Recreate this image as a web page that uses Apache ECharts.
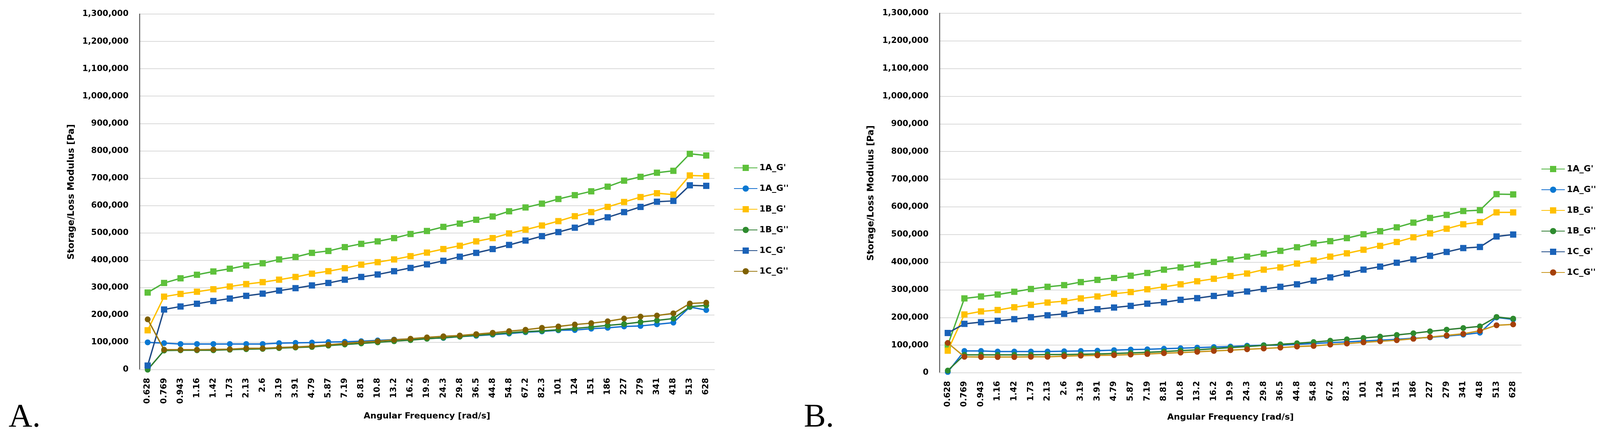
<!DOCTYPE html>
<html><head><meta charset="utf-8">
<script src="https://cdn.jsdelivr.net/npm/echarts@6/dist/echarts.min.js"></script>
<style>html,body{margin:0;padding:0;background:#fff}#c{width:4100px;height:1122px}</style>
</head><body><div id="c"></div>
<script>
// Angular frequency categories [rad/s]
const categories = ['0.628','0.769','0.943','1.16','1.42','1.73','2.13','2.6','3.19','3.91','4.79','5.87','7.19','8.81','10.8','13.2','16.2','19.9','24.3','29.8','36.5','44.8','54.8','67.2','82.3','101','124','151','186','227','279','341','418','513','628'];
const seriesNames = ["1A_G'", "1A_G''", "1B_G'", "1B_G''", "1C_G'", "1C_G''"];
const yTickMax = 1300000;
const yTickStep = 100000;

// Panel A values [Pa]
const A_1A_Gp  = [282000,317000,334000,347000,359000,369000,381000,389000,403000,412000,427000,434000,448000,460000,469000,481000,496000,507000,522000,534000,548000,560000,579000,593000,607000,624000,638000,652000,669000,691000,705000,720000,727000,789000,783000];
const A_1A_Gpp = [100000,97000,94000,94000,94000,94000,94000,94000,97000,98000,99000,101000,102000,104000,107000,110000,112000,114000,116000,121000,124000,128000,132000,137000,140000,144000,145000,150000,153000,158000,160000,166000,172000,229000,218000];
const A_1B_Gp  = [144000,267000,277000,285000,294000,304000,313000,320000,329000,339000,351000,360000,371000,384000,393000,403000,415000,428000,441000,453000,469000,481000,498000,512000,527000,543000,561000,576000,595000,613000,631000,645000,640000,710000,708000];
const A_1B_Gpp = [0,70000,71000,71000,71000,73000,75000,76000,79000,81000,83000,88000,92000,96000,100000,104000,108000,113000,117000,121000,126000,130000,135000,139000,142000,146000,151000,156000,162000,167000,174000,180000,187000,230000,235000];
const A_1C_Gp  = [15000,220000,231000,241000,251000,260000,270000,278000,289000,298000,308000,317000,329000,339000,348000,360000,372000,385000,398000,413000,427000,441000,456000,472000,488000,503000,519000,540000,557000,576000,595000,614000,617000,674000,672000];
const A_1C_Gpp = [184000,73000,73000,73000,74000,75000,78000,78000,81000,83000,86000,91000,96000,101000,104000,109000,113000,118000,122000,125000,130000,135000,141000,146000,153000,158000,165000,170000,177000,187000,194000,198000,206000,242000,245000];

// Panel B values [Pa]
const B_1A_Gp  = [100000,269000,276000,283000,293000,303000,311000,317000,328000,336000,343000,351000,361000,373000,381000,391000,401000,410000,420000,431000,441000,454000,468000,476000,487000,501000,512000,526000,543000,560000,571000,585000,588000,646000,645000];
const B_1A_Gpp = [3000,79000,79000,77000,77000,77000,77000,78000,79000,80000,82000,84000,85000,87000,89000,91000,93000,95000,98000,100000,100000,103000,106000,109000,112000,115000,118000,121000,125000,128000,133000,138000,145000,200000,193000];
const B_1B_Gp  = [80000,211000,222000,227000,237000,246000,254000,259000,269000,276000,286000,292000,302000,311000,320000,331000,340000,350000,359000,373000,381000,395000,406000,420000,432000,445000,459000,473000,490000,504000,521000,537000,545000,580000,580000];
const B_1B_Gpp = [8000,65000,65000,65000,65000,65000,66000,66000,67000,68000,70000,72000,74000,77000,80000,83000,87000,91000,95000,99000,103000,107000,111000,116000,121000,126000,131000,137000,143000,150000,156000,162000,168000,202000,196000];
const B_1C_Gp  = [144000,177000,183000,188000,194000,201000,208000,213000,223000,230000,236000,242000,250000,255000,264000,270000,278000,286000,294000,303000,311000,320000,333000,345000,359000,373000,384000,398000,410000,423000,437000,451000,455000,493000,500000];
const B_1C_Gpp = [108000,58000,57000,57000,57000,58000,58000,60000,62000,63000,64000,66000,68000,71000,73000,76000,79000,82000,85000,88000,91000,95000,97000,102000,106000,110000,114000,118000,123000,129000,135000,141000,152000,172000,175000];

const panelA = [A_1A_Gp, A_1A_Gpp, A_1B_Gp, A_1B_Gpp, A_1C_Gp, A_1C_Gpp];
const panelB = [B_1A_Gp, B_1A_Gpp, B_1B_Gp, B_1B_Gpp, B_1C_Gp, B_1C_Gpp];

const symbols = ['rect','circle','rect','circle','rect','circle'];
const symbolSizes = [16, 15, 16, 15, 16, 15];
const lineColorsA = ['#4DB33C','#1570CF','#FFC000','#2F7D32','#1F4A86','#9C7A14'];
const markColorsA = ['#5EC13B','#0A78D2','#FFC000','#2E8B2F','#1A62B8','#7F6000'];
const lineColorsB = ['#4DB33C','#1570CF','#FFC000','#2F7D32','#1F4A86','#C8961E'];
const markColorsB = ['#5EC13B','#0A78D2','#FFC000','#2E8B2F','#1A62B8','#A5400A'];

const FONT = 'DejaVu Sans';

function makeSeries(values, idx, panel) {
  const lc = panel === 0 ? lineColorsA : lineColorsB;
  const mc = panel === 0 ? markColorsA : markColorsB;
  return values.map((arr, i) => ({
    name: (panel === 0 ? 'A:' : 'B:') + seriesNames[i],
    type: 'line',
    xAxisIndex: idx, yAxisIndex: idx,
    data: arr,
    symbol: symbols[i],
    symbolSize: symbolSizes[i],
    showAllSymbol: true,
    lineStyle: { color: lc[i], width: 3.5 },
    itemStyle: { color: mc[i], borderWidth: 0 },
    emphasis: { disabled: true },
    z: 2 + i
  }));
}

function xAxis(gridIndex, gap) {
  return {
    type: 'category', gridIndex, data: categories, boundaryGap: true,
    name: 'Angular Frequency [rad/s]', nameLocation: 'middle', nameGap: gap,
    nameTextStyle: { fontFamily: FONT, fontWeight: 'bold', fontSize: 22, color: '#000' },
    axisLine: { show: true, lineStyle: { color: '#D9D9D9', width: 2 } },
    axisTick: { show: false },
    axisLabel: { interval: 0, rotate: 90, margin: 21, fontFamily: FONT, fontWeight: 'bold', fontSize: 21, color: '#000' },
    splitLine: { show: false }
  };
}
function yAxis(gridIndex, gap) {
  return {
    type: 'value', gridIndex, min: 0, max: yTickMax, interval: yTickStep,
    name: 'Storage/Loss Modulus [Pa]', nameLocation: 'middle', nameGap: gap,
    nameTextStyle: { fontFamily: FONT, fontWeight: 'bold', fontSize: 23, color: '#000' },
    axisLine: { show: true, lineStyle: { color: '#595959', width: 2.5 } },
    axisTick: { show: false },
    axisLabel: { margin: 28, fontFamily: FONT, fontWeight: 'bold', fontSize: 21, color: '#000',
      formatter: v => v.toLocaleString('en-US') },
    splitLine: { show: true, lineStyle: { color: '#D9D9D9', width: 2 } }
  };
}
function legend(prefix, left, top) {
  return {
    orient: 'vertical', left, top, itemWidth: 60, itemHeight: 20, itemGap: 27,
    data: seriesNames.map(n => prefix + n),
    formatter: n => n.slice(2),
    selectedMode: false,
    textStyle: { fontFamily: FONT, fontWeight: 'bold', fontSize: 22, color: '#000', lineHeight: 26 }
  };
}

const chart = echarts.init(document.getElementById('c'), null, { renderer: 'canvas' });
chart.setOption({
  animation: false,
  backgroundColor: '#fff',
  grid: [
    { left: 357, top: 36, width: 1472, height: 911 },
    { left: 2405, top: 34, width: 1490, height: 921 }
  ],
  xAxis: [xAxis(0, 108), xAxis(1, 103)],
  yAxis: [yAxis(0, 162), yAxis(1, 163)],
  legend: [legend('A:', 1873, 412), legend('B:', 3940, 415)],
  series: [...makeSeries(panelA, 0, 0), ...makeSeries(panelB, 1, 1)],
  graphic: [
    { type: 'text', left: 22, top: 1029, style: { text: 'A.', fontFamily: 'Liberation Serif', fontSize: 84, fill: '#000' } },
    { type: 'text', left: 2058, top: 1029, style: { text: 'B.', fontFamily: 'Liberation Serif', fontSize: 84, fill: '#000' } }
  ]
});
</script></body></html>
